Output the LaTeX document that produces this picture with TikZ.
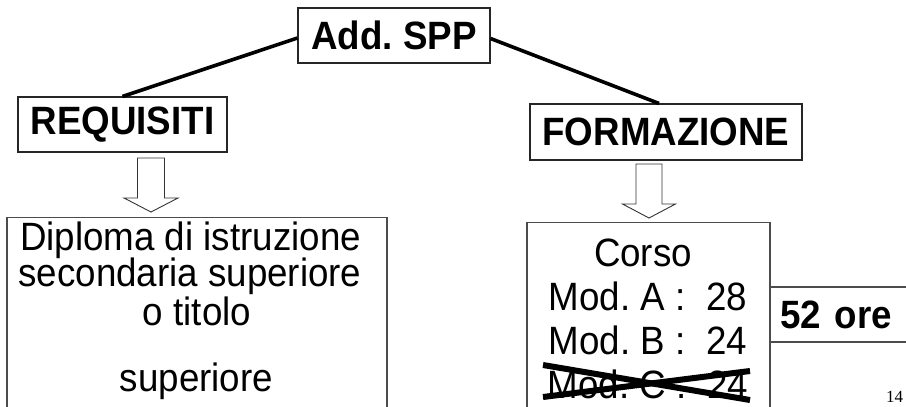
\documentclass[tikz,border=0pt]{standalone}
\usepackage{fontspec}
\setmainfont{Liberation Sans}[FakeStretch=0.93]
\newfontfamily\serifnum{Liberation Serif}
\begin{document}
\frenchspacing
\begin{tikzpicture}[x=1bp,y=-1bp,
  headbox/.style={draw=black!85, line width=1.1bp, inner sep=0pt, font=\fontsize{39.5bp}{44bp}\selectfont\bfseries},
  lowbox/.style={draw=black!70, line width=1.1bp, inner sep=0pt},
  link/.style={line width=3.6bp, black},
  hollow/.style={draw=black!80, line width=0.9bp, fill=white, line join=miter},
  linetext/.style={font=\fontsize{39.5bp}{44bp}\selectfont, anchor=base, inner sep=0pt},
  cross/.style={line width=6bp, black}
]
\useasboundingbox (0,0) rectangle (906,406);

% top boxes
\node[headbox, minimum width=192bp, minimum height=55bp] (add) at (394,35.5) {Add. SPP};
\node[headbox, minimum width=209bp, minimum height=55bp] (req) at (122.5,124.5) {REQUISITI};
\node[headbox, minimum width=272bp, minimum height=56bp] (form) at (666,132) {FORMAZIONE};

% connectors
\draw[link] ([yshift=-2.5bp]add.west) -- (req.north);
\draw[link] ([yshift=-3bp]add.east) -- ([xshift=-7bp]form.north);

% lower boxes (cut by the page bottom)
\node[lowbox, anchor=north, minimum width=380bp, minimum height=230bp] (dip) at (197,217) {};
\node[lowbox, anchor=north, minimum width=243bp, minimum height=230bp] (corso) at (648.5,222) {};
\node[lowbox, anchor=west, minimum height=55bp, text width=130bp, inner xsep=10bp, align=left,
      font=\fontsize{39.5bp}{44bp}\selectfont\bfseries] (ore) at (770,314.5) {52 ore};

% hollow arrows
\draw[hollow] (137.5,158) -- (164.5,158) -- (164.5,198) -- (178,198) -- (151,212)
  -- (124,198) -- (137.5,198) -- cycle;
\draw[hollow] (636,164) -- (662,164) -- (662,204) -- (675.5,204) -- (649,218)
  -- (622.5,204) -- (636,204) -- cycle;

% text of the left box
\node[linetext] (d1) at (190.5,250) {Diploma di istruzione};
\node[linetext] (d2) at (190,286) {secondaria superiore};
\node[linetext] (d3) at (197,325) {o titolo};
\node[linetext] (d4) at (196.5,391) {superiore};

% text of the right box
\node[linetext] (c1) at (643,266) {Corso};
\node[linetext] (c2) at (648,310) {Mod. A :\ \ 28};
\node[linetext] (c3) at (648,354) {Mod. B :\ \ 24};
\node[linetext] (c4) at (648,398) {Mod. C :\ \ 24};

% cross over the last line
\coordinate (xa) at (543,365);
\coordinate (xb) at (750,400);
\coordinate (xc) at (543,397);
\coordinate (xd) at (750,371);
\draw[cross] (xa) -- (xb);
\draw[cross] (xc) -- (xd);

% page number
\node[anchor=base west, inner sep=0pt, font=\serifnum\fontsize{17bp}{20bp}\selectfont] (pg) at (886,402) {14};
\end{tikzpicture}
\end{document}
